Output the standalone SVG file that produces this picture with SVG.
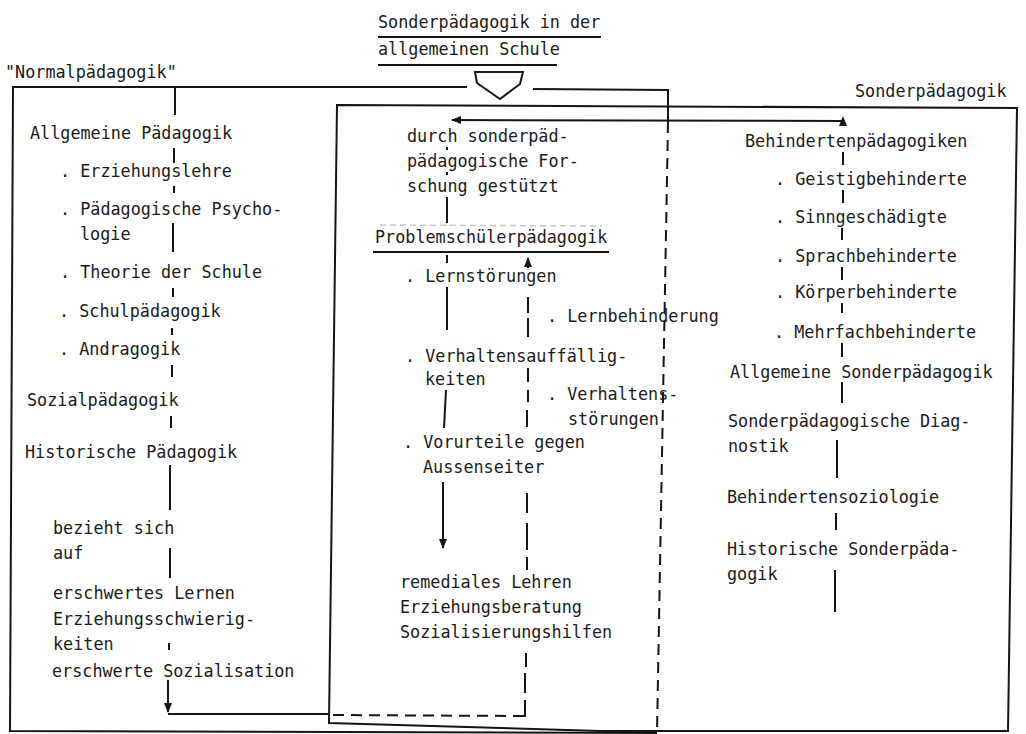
<svg xmlns="http://www.w3.org/2000/svg" width="1026" height="734" viewBox="0 0 1026 734">
<style>
.t{font-family:"DejaVu Sans Mono","Liberation Mono",monospace;font-size:16.8px;fill:#1a1a1a}
.ln{stroke:#151515;stroke-width:2;fill:none}
.d{stroke-dasharray:11 7}
.faint{stroke:#c8c8c8;stroke-width:1.5;stroke-dasharray:6 4;fill:none}
</style>
<defs>
<marker id="ah" viewBox="0 0 10 10" refX="9" refY="5" markerWidth="10" markerHeight="10" markerUnits="userSpaceOnUse" orient="auto">
<path d="M0,1 L10,5 L0,9 Z" fill="#151515"/>
</marker>
</defs>
<rect width="1026" height="734" fill="#fff"/>

<g id="frame-normal">
<text class="t" x="5" y="78">"Normalpädagogik"</text>
<path class="ln" d="M467,87 L13,87 L10,731 L657,733"/>
<path class="ln" d="M533,89 L668,90 L668,122"/>
<path class="ln d" d="M668,122 L657,733"/>
</g>

<g id="frame-schule">
<text class="t" x="378" y="28">Sonderpädagogik in der</text>
<text class="t" x="378" y="55">allgemeinen Schule</text>
<path class="ln" d="M378,37 L601,37 M378,65 L557,65"/>
<path class="ln" d="M475,72 L523,72 L520,84 L500,99 L477,83 Z"/>
</g>

<g id="frame-sonder">
<text class="t" x="855" y="97">Sonderpädagogik</text>
<path class="ln" d="M337,105 L1017,108 L1008,731 L600,731 L329,723 Z"/>
</g>

<g id="connectors">
<path class="ln" d="M843,121 L452,120" marker-end="url(#ah)"/>
<path d="M843,116 L839,126 L847,126 Z" fill="#151515"/>
<path class="ln" d="M175,87 V115 M174,148 V163 M174,186 V193 M173,223 V252 M173,288 V297 M172,328 V335 M172,365 V377 M171,416 V428 M170,465 V510 M170,548 V578 M169,643 V650"/>
<path class="ln" d="M168,680 L168,712" marker-end="url(#ah)"/>
<path class="ln" d="M168,714 L330,714"/>
<path class="ln d" d="M333,715 L521,716"/>
<path class="ln" d="M515,716 L525,716 L525,700"/>
<path class="ln" d="M525,693 V673 M526,667 V653 M527,570 V557 M527,550 V523 M527,513 V493 M527,427 V410 M528,402 V390 M528,382 V368 M528,337 V318 M528,313 V297"/>
<path class="ln" d="M528,268 L528,258" marker-end="url(#ah)"/>
<path class="ln" d="M447,147 V150 M447,172 V175 M447,197 V223 M447,255 V263 M447,287 V330 M446,390 L444,428"/>
<path class="ln" d="M443,482 L443,548" marker-end="url(#ah)"/>
<path class="ln" d="M843,152 V165 M843,190 V203 M842,228 V240 M842,267 V280 M842,303 V313 M842,343 V357 M842,382 V403 M837,440 V478 M836,513 V530 M835,570 V612"/>
<path class="faint" d="M380,225 L602,226"/>
<path class="ln" d="M373,252 L609,252"/>
</g>

<g id="n-allgemeine">
<text class="t" x="30" y="139">Allgemeine Pädagogik</text>
<text class="t" x="60" y="177">. Erziehungslehre</text>
<text class="t" x="60" y="215">. Pädagogische Psycho-</text>
<text class="t" x="80" y="240">logie</text>
<text class="t" x="60" y="278">. Theorie der Schule</text>
<text class="t" x="59" y="317">. Schulpädagogik</text>
<text class="t" x="59" y="355">. Andragogik</text>
</g>
<g id="n-sozial"><text class="t" x="27" y="406">Sozialpädagogik</text></g>
<g id="n-historisch"><text class="t" x="25" y="458">Historische Pädagogik</text></g>
<g id="n-bezieht">
<text class="t" x="53" y="534">bezieht sich</text>
<text class="t" x="53" y="559">auf</text>
</g>
<g id="n-erschwert">
<text class="t" x="53" y="599">erschwertes Lernen</text>
<text class="t" x="53" y="625">Erziehungsschwierig-</text>
<text class="t" x="53" y="650">keiten</text>
<text class="t" x="52" y="677">erschwerte Sozialisation</text>
</g>

<g id="n-forschung">
<text class="t" x="407" y="142">durch sonderpäd-</text>
<text class="t" x="407" y="167">pädagogische For-</text>
<text class="t" x="407" y="192">schung gestützt</text>
</g>
<g id="n-problem"><text class="t" x="375" y="243">Problemschülerpädagogik</text></g>
<g id="n-lernstoerungen"><text class="t" x="405" y="282">. Lernstörungen</text></g>
<g id="n-lernbehinderung"><text class="t" x="547" y="322">. Lernbehinderung</text></g>
<g id="n-verhaltensauff">
<text class="t" x="405" y="362">. Verhaltensauffällig-</text>
<text class="t" x="425" y="385">keiten</text>
</g>
<g id="n-verhaltensstoer">
<text class="t" x="547" y="400">. Verhaltens-</text>
<text class="t" x="568" y="425">störungen</text>
</g>
<g id="n-vorurteile">
<text class="t" x="403" y="448">. Vorurteile gegen</text>
<text class="t" x="423" y="473">Aussenseiter</text>
</g>
<g id="n-remedial">
<text class="t" x="400" y="588">remediales Lehren</text>
<text class="t" x="400" y="613">Erziehungsberatung</text>
<text class="t" x="400" y="638">Sozialisierungshilfen</text>
</g>

<g id="n-behinderten">
<text class="t" x="745" y="147">Behindertenpädagogiken</text>
<text class="t" x="775" y="185">. Geistigbehinderte</text>
<text class="t" x="775" y="223">. Sinngeschädigte</text>
<text class="t" x="775" y="262">. Sprachbehinderte</text>
<text class="t" x="775" y="298">. Körperbehinderte</text>
<text class="t" x="774" y="338">. Mehrfachbehinderte</text>
</g>
<g id="n-allg-sonder"><text class="t" x="730" y="378">Allgemeine Sonderpädagogik</text></g>
<g id="n-diagnostik">
<text class="t" x="728" y="427">Sonderpädagogische Diag-</text>
<text class="t" x="728" y="452">nostik</text>
</g>
<g id="n-soziologie"><text class="t" x="727" y="503">Behindertensoziologie</text></g>
<g id="n-hist-sonder">
<text class="t" x="727" y="555">Historische  Sonderpäda-</text>
<text class="t" x="727" y="580">gogik</text>
</g>
</svg>
